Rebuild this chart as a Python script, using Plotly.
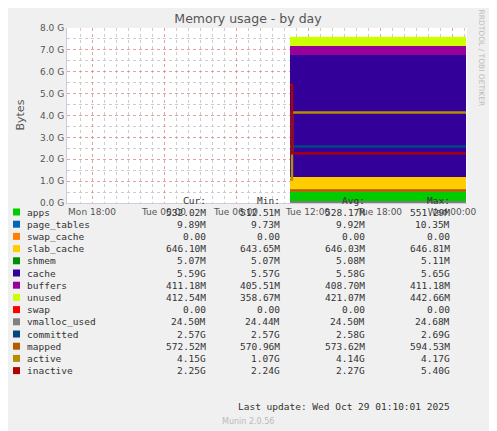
import plotly.graph_objects as go
import pandas as pd

# time axis: data runs from Tue 10:30 to Wed 01:10, 10-minute samples
times = pd.date_range("2025-10-28 10:30", "2025-10-29 01:10", freq="10min")
n = len(times)

# stacked areas (GB)
area_names = ["apps", "page_tables", "swap_cache", "slab_cache", "shmem", "cache", "buffers", "unused"]
area_colors = ["#00CC00", "#0066B3", "#FF8000", "#FFCC00", "#008F00", "#330099", "#990099", "#CCFF00"]
area_values = [0.528, 0.0099, 0.0, 0.646, 0.0051, 5.58, 0.409, 0.421]

# line series (GB)
line_names = ["swap", "vmalloc_used", "committed", "mapped", "active", "inactive"]
line_colors = ["#FF0000", "#808080", "#00487D", "#B35A00", "#B38F00", "#B30000"]
line_values = [0.0, 0.0245, 2.58, 0.574, 4.14, 2.27]
line_first = [0.0, 0.0245, 2.57, 0.571, 1.07, 5.40]

# legend table
legend_names = area_names + line_names
legend_colors = area_colors + line_colors
cur = ["532.02M", "9.89M", "0.00", "646.10M", "5.07M", "5.59G", "411.18M", "412.54M",
       "0.00", "24.50M", "2.57G", "572.52M", "4.15G", "2.25G"]
mins = ["512.51M", "9.73M", "0.00", "643.65M", "5.07M", "5.57G", "405.51M", "358.67M",
        "0.00", "24.44M", "2.57G", "570.96M", "1.07G", "2.24G"]
avgs = ["528.17M", "9.92M", "0.00", "646.03M", "5.08M", "5.58G", "408.70M", "421.07M",
        "0.00", "24.50M", "2.58G", "573.62M", "4.14G", "2.27G"]
maxs = ["551.29M", "10.35M", "0.00", "646.81M", "5.11M", "5.65G", "411.18M", "442.66M",
        "0.00", "24.68M", "2.69G", "594.53M", "4.17G", "5.40G"]

fig = go.Figure()
for name, color, v in zip(area_names, area_colors, area_values):
    fig.add_trace(go.Scatter(x=times, y=[v] * n, name=name, stackgroup="mem",
                             mode="lines", line=dict(width=0, color=color),
                             fillcolor=color, line_shape="hv"))
for name, color, v, f in zip(line_names, line_colors, line_values, line_first):
    fig.add_trace(go.Scatter(x=times, y=[f] + [v] * (n - 1), name=name, mode="lines",
                             line=dict(width=2.4, color=color), line_shape="hv"))

ann = []
font = dict(family="DejaVu Sans Mono, monospace", size=9.5, color="#333")
for x, t in [(208, "Cur:"), (282, "Min:"), (367, "Avg:"), (452, "Max:")]:
    ann.append(dict(x=x, y=200, text=t, xanchor="right"))
cols = [(208, cur), (282, mins), (367, avgs), (452, maxs)]
shapes = []
for i, name in enumerate(legend_names):
    y = 212 + i * 12.2
    ann.append(dict(x=25, y=y, text=name, xanchor="left"))
    for x, col in cols:
        ann.append(dict(x=x, y=y, text=col[i], xanchor="right"))
    shapes.append(dict(type="rect", xref="paper", yref="paper",
                       x0=(13 - 67) / 400, x1=(20 - 67) / 400,
                       y0=(203 - y - 3.5) / 175, y1=(203 - y + 3.5) / 175,
                       fillcolor=legend_colors[i], line_width=0))
ann.append(dict(x=452, y=407, text="Last update: Wed Oct 29 01:10:01 2025", xanchor="right"))
annotations = []
for a in ann:
    annotations.append(dict(xref="paper", yref="paper", x=(a["x"] - 67) / 400,
                            y=(203 - a["y"]) / 175, text=a["text"], xanchor=a["xanchor"],
                            yanchor="middle", showarrow=False, font=font))
annotations.append(dict(xref="paper", yref="paper", x=(248 - 67) / 400, y=(203 - 421) / 175,
                        text="Munin 2.0.56", showarrow=False, yanchor="middle",
                        font=dict(family="DejaVu Sans", size=8, color="#bbb")))
annotations.append(dict(xref="paper", yref="paper", x=(487 - 67) / 400, y=(203 - 58) / 175,
                        text="RRDTOOL / TOBI OETIKER", textangle=90, showarrow=False,
                        yanchor="middle", font=dict(family="DejaVu Sans", size=7.5, color="#bbb")))
annotations.append(dict(xref="paper", yref="paper", x=(11 - 67) / 400, y=(203 - 115) / 175,
                        text="Bytes", textangle=-90, showarrow=False, yanchor="middle",
                        font=dict(family="DejaVu Sans", size=11, color="#555")))

# page body has an 8px margin, so the figure is sized and offset to compensate
fig.update_layout(
    width=489, height=423,
    margin=dict(l=59, r=30, t=20, b=228),
    paper_bgcolor="#f0f0f0", plot_bgcolor="white",
    showlegend=False,
    title=dict(text="Memory usage - by day", x=(248 - 8) / 489, xanchor="center",
               y=1 - 11 / 423, yanchor="middle",
               font=dict(family="DejaVu Sans", size=12.5, color="#555")),
    xaxis=dict(range=["2025-10-27 15:55", "2025-10-29 01:15"], dtick=6 * 3600000,
               tick0="2025-10-27 18:00", tickformat="%a %H:%M", showgrid=True,
               gridcolor="rgba(220,120,120,0.7)", griddash="dot", gridwidth=1,
               minor=dict(dtick=3600000, showgrid=True, gridcolor="#ccc", griddash="dot"),
               ticks="", showline=True, linecolor="#ccd", zeroline=False,
               tickfont=dict(family="DejaVu Sans", size=9, color="#555")),
    yaxis=dict(range=[0, 8.0], dtick=1, tickformat=".1f", ticksuffix=" G",
               showgrid=True, gridcolor="rgba(220,120,120,0.7)", griddash="dot",
               minor=dict(dtick=0.5, showgrid=True, gridcolor="#ccc", griddash="dot"),
               ticks="", showline=True, linecolor="#ccd", zeroline=False,
               tickfont=dict(family="DejaVu Sans", size=9, color="#555")),
    annotations=annotations, shapes=shapes,
)
fig.write_html("out.html")
